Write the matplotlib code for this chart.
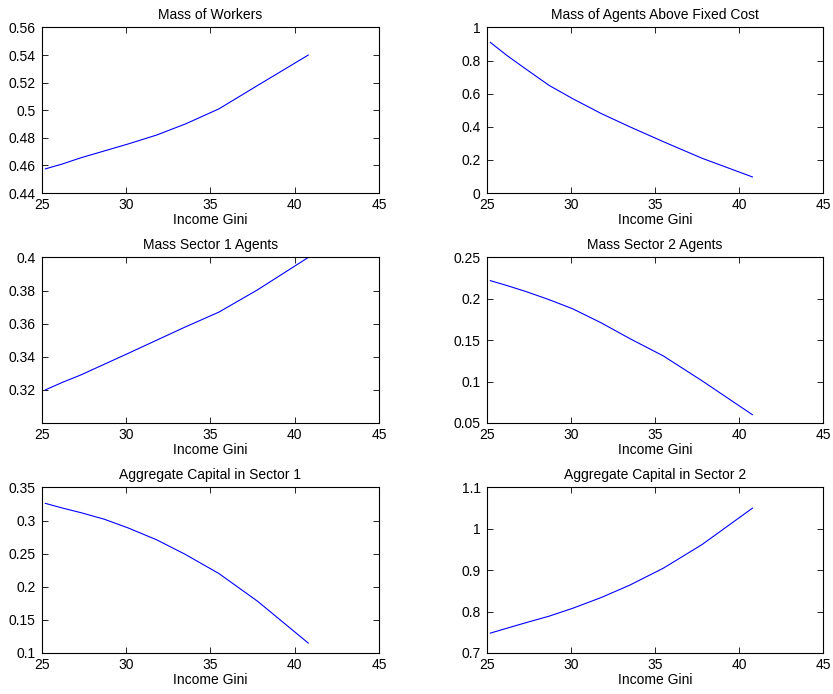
import matplotlib
matplotlib.use("Agg")
import matplotlib.pyplot as plt
from matplotlib.ticker import FuncFormatter

plt.rcParams["font.family"] = ["Liberation Sans", "DejaVu Sans"]
plt.rcParams["font.size"] = 10

# --------------------------------------------------------------------------- #
# Data
# --------------------------------------------------------------------------- #
gini = [25.2, 26.2, 27.3, 28.7, 30.1, 31.8, 33.5, 35.5, 37.8, 40.8]

mass_workers = [0.4575, 0.461, 0.4655, 0.4705, 0.4755, 0.482, 0.490, 0.501, 0.518, 0.540]
mass_above_fc = [0.91, 0.83, 0.75, 0.65, 0.57, 0.48, 0.40, 0.31, 0.21, 0.097]
mass_sector1 = [0.320, 0.3245, 0.329, 0.3355, 0.342, 0.350, 0.358, 0.367, 0.3805, 0.400]
mass_sector2 = [0.222, 0.216, 0.209, 0.199, 0.188, 0.171, 0.152, 0.131, 0.101, 0.060]
capital_sector1 = [0.326, 0.319, 0.312, 0.302, 0.289, 0.271, 0.249, 0.220, 0.178, 0.115]
capital_sector2 = [0.748, 0.760, 0.773, 0.789, 0.808, 0.834, 0.864, 0.905, 0.962, 1.050]

panels = [
    ("Mass of Workers", mass_workers, (0.44, 0.56), [0.44, 0.46, 0.48, 0.5, 0.52, 0.54, 0.56]),
    ("Mass of Agents Above Fixed Cost", mass_above_fc, (0, 1), [0, 0.2, 0.4, 0.6, 0.8, 1]),
    ("Mass Sector 1 Agents", mass_sector1, (0.30, 0.40), [0.32, 0.34, 0.36, 0.38, 0.4]),
    ("Mass Sector 2 Agents", mass_sector2, (0.05, 0.25), [0.05, 0.1, 0.15, 0.2, 0.25]),
    ("Aggregate Capital in Sector 1", capital_sector1, (0.1, 0.35), [0.1, 0.15, 0.2, 0.25, 0.3, 0.35]),
    ("Aggregate Capital in Sector 2", capital_sector2, (0.7, 1.1), [0.7, 0.8, 0.9, 1, 1.1]),
]

# axes rectangles in figure fractions (MATLAB subplot layout)
lefts = [0.0504, 0.5846]
widths = [0.4046, 0.4034]
bottoms = [0.7219, 0.3905, 0.0591]
height = 0.2385

fig = plt.figure(figsize=(8.33, 6.94), dpi=100)

for i, (title, values, ylim, yticks) in enumerate(panels):
    row, col = divmod(i, 2)
    ax = fig.add_axes([lefts[col], bottoms[row], widths[col], height])
    ax.plot(gini, values, color="#0000ff", linewidth=0.8)
    ax.set_xlim(25, 45)
    ax.set_ylim(*ylim)
    ax.set_xticks([25, 30, 35, 40, 45])
    ax.set_yticks(yticks)
    ax.yaxis.set_major_formatter(FuncFormatter(lambda v, p: f"{v:g}"))
    ax.tick_params(direction="in", top=True, right=True, length=4, width=0.6,
                   labelsize=10)
    ax.tick_params(axis="y", pad=4.5)
    ax.tick_params(axis="x", pad=3.5)
    for spine in ax.spines.values():
        spine.set_linewidth(0.8)
    ax.set_title(title, fontsize=10, pad=6)
    ax.set_xlabel("Income Gini", fontsize=10, labelpad=1)

fig.savefig("out.png", dpi=100)
plt.close(fig)
